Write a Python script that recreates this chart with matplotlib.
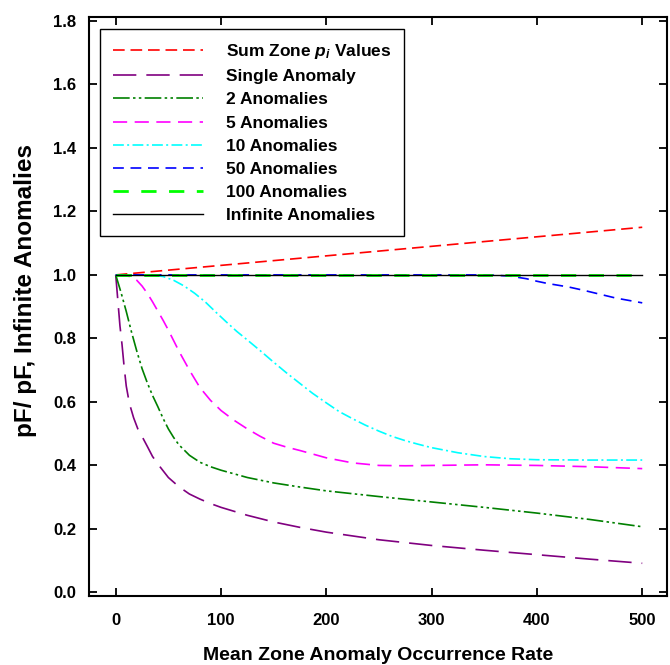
import matplotlib.pyplot as plt
import numpy as np

plt.rcParams['font.family'] = ['Liberation Sans', 'DejaVu Sans']
plt.rcParams['font.weight'] = 'bold'
plt.rcParams['mathtext.fontset'] = 'custom'
plt.rcParams['mathtext.it'] = 'Liberation Sans:italic:bold'
plt.rcParams['mathtext.rm'] = 'Liberation Sans:bold'

# valores (taxa media de ocorrencia de anomalias na zona)
x_sum = [0, 500]
y_sum = [1.0, 1.15]

x_single = [0, 2, 4, 6, 8, 10, 13, 17, 21, 26, 30, 35, 42, 50, 60, 70, 80, 90, 100,
            125, 150, 175, 200, 250, 300, 350, 400, 450, 500]
y_single = [1.0, 0.92, 0.84, 0.78, 0.71, 0.65, 0.595, 0.55, 0.515, 0.485, 0.46, 0.428,
            0.396, 0.362, 0.333, 0.31, 0.294, 0.28, 0.268, 0.243, 0.222, 0.205, 0.19,
            0.166, 0.148, 0.133, 0.119, 0.105, 0.092]

x_two = [0, 5, 10, 15, 20, 25, 30, 35, 40, 45, 50, 55, 60, 70, 80, 90, 100, 125, 150,
         175, 200, 250, 300, 350, 400, 450, 500]
y_two = [1.0, 0.945, 0.885, 0.82, 0.76, 0.705, 0.66, 0.62, 0.585, 0.548, 0.515, 0.488,
         0.465, 0.432, 0.41, 0.396, 0.385, 0.362, 0.345, 0.332, 0.32, 0.302, 0.285,
         0.268, 0.25, 0.23, 0.207]

x_five = [0, 10, 15, 20, 25, 30, 35, 40, 45, 50, 55, 60, 70, 80, 90, 100, 112, 125, 137,
          150, 162, 175, 187, 200, 225, 250, 275, 300, 350, 400, 450, 500]
y_five = [1.0, 0.998, 0.993, 0.983, 0.965, 0.942, 0.915, 0.886, 0.857, 0.826, 0.793,
          0.76, 0.70, 0.645, 0.605, 0.573, 0.543, 0.515, 0.492, 0.47, 0.458, 0.447,
          0.436, 0.424, 0.408, 0.40, 0.399, 0.40, 0.402, 0.40, 0.396, 0.39]

x_ten = [0, 20, 35, 45, 55, 65, 75, 85, 95, 105, 115, 125, 137, 150, 162, 175, 187, 200,
         212, 225, 237, 250, 262, 275, 287, 300, 325, 350, 375, 400, 450, 500]
y_ten = [1.0, 1.0, 0.999, 0.995, 0.983, 0.965, 0.942, 0.915, 0.883, 0.852, 0.822, 0.795,
         0.762, 0.725, 0.692, 0.658, 0.627, 0.597, 0.57, 0.547, 0.527, 0.508, 0.492,
         0.478, 0.467, 0.456, 0.44, 0.428, 0.421, 0.418, 0.417, 0.417]

x_fifty = [0, 100, 200, 300, 340, 360, 375, 390, 400, 410, 430, 445, 460, 475, 490, 500]
y_fifty = [1.0, 1.0, 1.0, 1.0, 1.0, 0.999, 0.996, 0.988, 0.98, 0.973, 0.962, 0.951,
           0.939, 0.927, 0.918, 0.912]

x_hundred = [0, 500]
y_hundred = [1.0, 1.0]

x_inf = [0, 500]
y_inf = [1.0, 1.0]

fig = plt.figure(figsize=(6.7, 6.65), dpi=100)
ax = fig.add_axes([0.1328, 0.1038, 0.8627, 0.8706])

ax.plot(x_sum, y_sum, color='red', lw=1.2, dashes=(7, 3.5), label='Sum Zone $p_i$ Values')
ax.plot(x_single, y_single, color='#800080', lw=1.2, dashes=(14, 6), label='Single Anomaly')
ax.plot(x_two, y_two, color='#008000', lw=1.2, dashes=(10, 2, 1.5, 2, 1.5, 2),
        label='2 Anomalies')
ax.plot(x_five, y_five, color='magenta', lw=1.2, dashes=(8.5, 4.5), label='5 Anomalies')
ax.plot(x_ten, y_ten, color='cyan', lw=1.2, dashes=(6.5, 2, 1.2, 2), label='10 Anomalies')
ax.plot(x_fifty, y_fifty, color='blue', lw=1.2, dashes=(6.5, 4), label='50 Anomalies')
ax.plot(x_hundred, y_hundred, color='#00ff00', lw=2.0, dashes=(5.5, 4.5), label='100 Anomalies')
ax.plot(x_inf, y_inf, color='black', lw=1.0, label='Infinite Anomalies')

ax.set_xlim(-25.4, 523.5)
ax.set_ylim(-0.011, 1.812)
ax.set_xticks([0, 100, 200, 300, 400, 500])
ax.set_yticks(np.arange(0, 1.81, 0.2))
ax.yaxis.set_major_formatter(plt.FormatStrFormatter('%.1f'))
ax.tick_params(direction='in', length=6, width=1.3, top=True, right=True,
               labeltop=False, labelright=False, labelsize=12)
ax.tick_params(axis='x', pad=12)
ax.tick_params(axis='y', pad=9)
for s in ax.spines.values():
    s.set_linewidth(1.5)

ax.set_xlabel('Mean Zone Anomaly Occurrence Rate', fontsize=14, fontweight='bold', labelpad=14)
ax.set_ylabel('pF/ pF, Infinite Anomalies', fontsize=17.5, fontweight='bold')
ax.yaxis.set_label_coords(-0.09, 0.528)

leg = ax.legend(loc='upper left', bbox_to_anchor=(0.019, 0.979), borderaxespad=0,
                fontsize=12.5, handlelength=5.2, handletextpad=1.3, labelspacing=0.46,
                fancybox=False, edgecolor='black', framealpha=1, borderpad=0.75)
leg.get_frame().set_linewidth(1.0)

plt.savefig('out.png', dpi=100)
